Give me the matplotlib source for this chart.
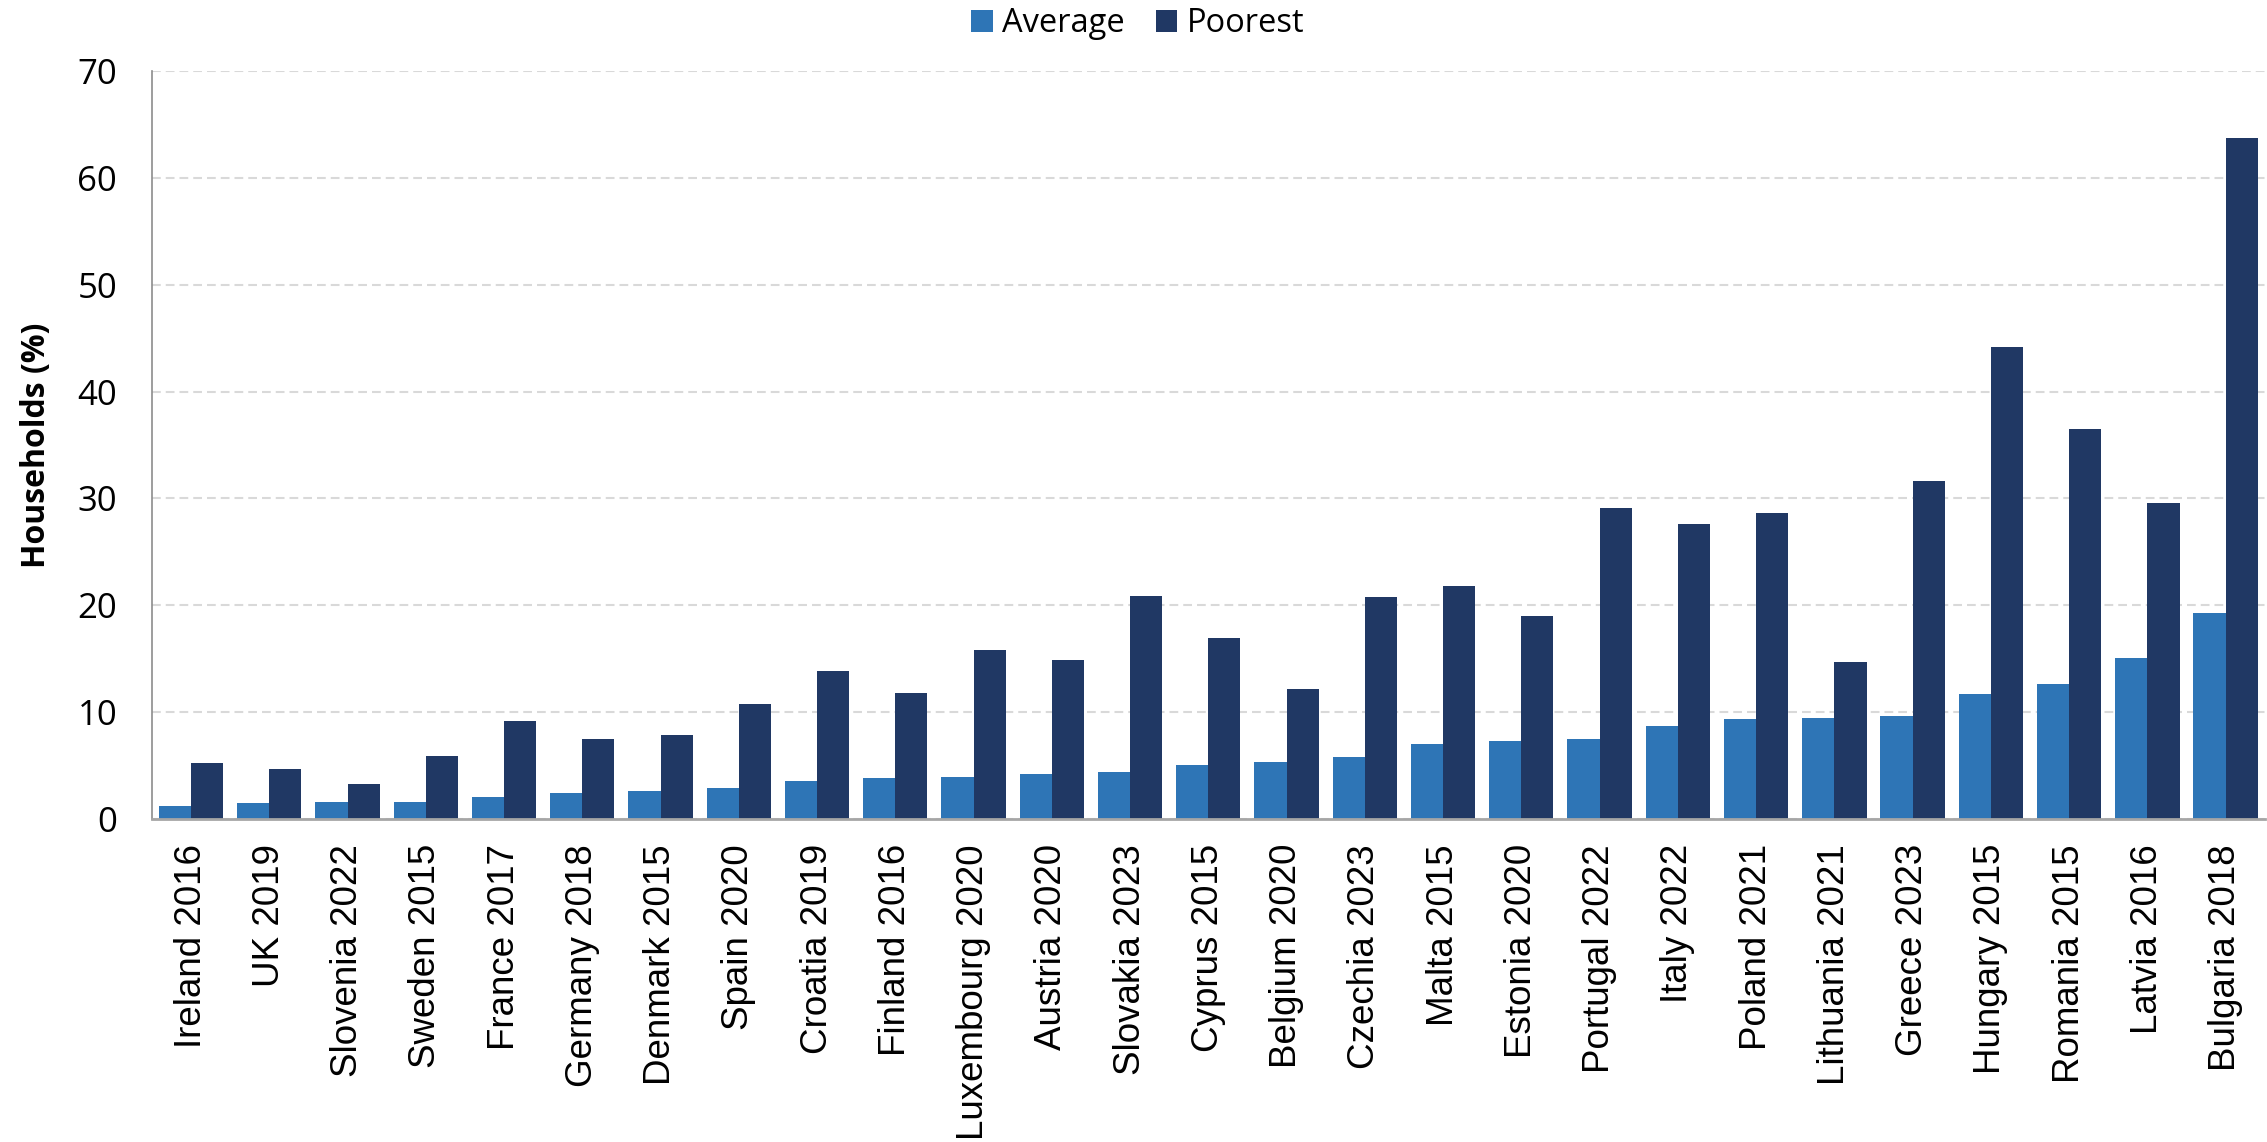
import matplotlib.pyplot as plt
import numpy as np

categories = ['Ireland 2016', 'UK 2019', 'Slovenia 2022', 'Sweden 2015', 'France 2017',
              'Germany 2018', 'Denmark 2015', 'Spain 2020', 'Croatia 2019', 'Finland 2016',
              'Luxembourg 2020', 'Austria 2020', 'Slovakia 2023', 'Cyprus 2015', 'Belgium 2020',
              'Czechia 2023', 'Malta 2015', 'Estonia 2020', 'Portugal 2022', 'Italy 2022',
              'Poland 2021', 'Lithuania 2021', 'Greece 2023', 'Hungary 2015', 'Romania 2015',
              'Latvia 2016', 'Bulgaria 2018']
average = [1.2, 1.5, 1.6, 1.6, 2.1, 2.4, 2.6, 2.9, 3.6, 3.8, 3.9, 4.2, 4.4, 5.1, 5.3,
           5.8, 7.0, 7.3, 7.5, 8.7, 9.4, 9.5, 9.6, 11.7, 12.6, 15.1, 19.3]
poorest = [5.2, 4.7, 3.3, 5.9, 9.2, 7.5, 7.9, 10.8, 13.9, 11.8, 15.8, 14.9, 20.9, 16.9, 12.2,
           20.8, 21.8, 19.0, 29.1, 27.6, 28.6, 14.7, 31.6, 44.2, 36.5, 29.6, 63.7]
series_names = ['Average', 'Poorest']
colors = ['#2E75B6', '#203864']

ui_font = ['Open Sans', 'DejaVu Sans']

fig = plt.figure(figsize=(22.67, 11.42), dpi=100)
ax = fig.add_axes([0.067, 0.2828, 0.932, 0.655])

x = np.arange(len(categories))
w = 0.411
ax.bar(x - w / 2, average, width=w, color=colors[0], label=series_names[0], zorder=3)
ax.bar(x + w / 2, poorest, width=w, color=colors[1], label=series_names[1], zorder=3)

ax.set_xlim(-0.5, len(categories) - 0.5)
ax.set_ylim(0, 70)
ax.set_yticks(np.arange(0, 71, 10))
ax.set_xticks(x)
ax.set_xticklabels(categories, rotation=90, fontsize=26.5, family='Liberation Sans')
for lab in ax.get_yticklabels():
    lab.set_family(ui_font)
    lab.set_fontsize(25)

ax.tick_params(axis='x', length=0, pad=18)
ax.tick_params(axis='y', length=0, pad=25)

ax.grid(axis='y', color='#D9D9D9', linewidth=1.5, linestyle=(0, (4.2, 2.4)), zorder=0)
ax.set_axisbelow(True)

for s in ['top', 'right']:
    ax.spines[s].set_visible(False)
ax.spines['left'].set_color('#8C8C8C')
ax.spines['left'].set_linewidth(1.2)
ax.spines['bottom'].set_color('#A6A6A6')
ax.spines['bottom'].set_linewidth(2)
ax.spines['bottom'].set_zorder(4)

ax.set_ylabel('Households (%)', fontsize=23, fontweight='bold', family=ui_font)
ax.yaxis.set_label_coords(-0.047, 0.5)

fig.legend(loc='center', bbox_to_anchor=(0.502, 0.979), ncol=2, frameon=False,
           prop={'family': ui_font, 'size': 23.5}, handlelength=0.65, handleheight=0.65,
           handletextpad=0.3, columnspacing=0.95, borderaxespad=0)

fig.savefig('out.png', dpi=100)
